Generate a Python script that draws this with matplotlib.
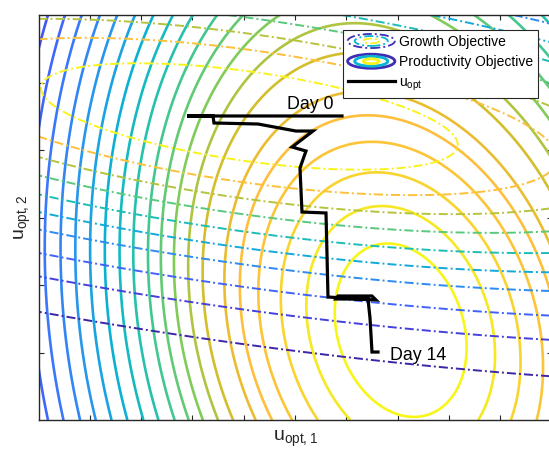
import numpy as np
import matplotlib
matplotlib.use("Agg")
import matplotlib.pyplot as plt
from matplotlib.colors import LinearSegmentedColormap
from matplotlib.legend_handler import HandlerBase
from matplotlib.patches import Ellipse
from matplotlib.lines import Line2D

plt.rcParams['font.family'] = ['Liberation Sans', 'DejaVu Sans']
plt.rcParams['mathtext.fontset'] = 'custom'
plt.rcParams['mathtext.rm'] = 'Liberation Sans'
plt.rcParams['mathtext.it'] = 'Liberation Sans:italic'
plt.rcParams['lines.scale_dashes'] = False

# ---------------- data ----------------
x_range = [0, 10]
y_range = [0, 6]
x_ticks = [1, 2, 3, 4, 5, 6, 7, 8, 9]
y_ticks = [1, 2, 3, 4, 5]

# Growth objective: tilted ellipses (centre line sheared)
growth_center_x = 4.11
growth_center_y0 = 4.92
growth_center_slope = -0.103
growth_semi_x = 4.05
growth_semi_y = 0.666
# where each growth contour crosses the column x = 7.05 (below the centre)
growth_cross_x = [7.05] * 10
growth_cross_y = [3.733, 3.333, 3.067, 2.815, 2.548, 2.296, 2.044, 1.704, 1.363, 0.844]
growth_colorvals = [0.97, 0.78, 0.66, 0.55, 0.45, 0.36, 0.27, 0.17, 0.08, 0.0]

# Productivity objective: ellipses whose centre rises on the left side,
# and whose stretch grows outward
prod_center_x = 7.06
prod_center_y = 1.33
prod_shift_max = 0.92
prod_shift_width = 1.5
prod_stretch = [1.02, 0.12]
prod_shear = [0.20, 0.17]
prod_transition = 4.5
# where each productivity contour crosses the row y = 1.185 (left of centre),
# plus the two outermost ones read at the top edge
prod_cross_x = [5.838, 5.292, 4.805, 4.376, 4.025, 3.733, 3.324, 3.051, 2.778,
                2.524, 2.271, 1.979, 1.706, 1.413, 1.121, 0.828, 0.536, 0.224,
                0.517, 0.185]
prod_cross_y = [1.185] * 18 + [6.0, 6.0]
prod_colorvals = [0.98, 0.93, 0.86, 0.80, 0.77, 0.73, 0.69, 0.65, 0.60, 0.56,
                  0.52, 0.47, 0.43, 0.39, 0.34, 0.30, 0.26, 0.22, 0.18, 0.14]

# optimal input trajectory u_opt
uopt_x = [5.916, 2.895, 3.402, 3.421, 4.279, 5.019, 5.351, 4.942, 5.214, 5.097,
          5.136, 5.604, 5.624, 5.643, 6.579, 6.501, 5.838, 5.799, 6.423, 6.462,
          6.501, 6.618]
uopt_y = [4.504, 4.504, 4.504, 4.400, 4.385, 4.281, 4.281, 4.044, 3.985, 3.733,
          3.081, 3.067, 2.444, 1.822, 1.778, 1.837, 1.837, 1.793, 1.793, 1.511,
          1.007, 1.007]

day_labels = ["Day 0", "Day 14"]
day_label_x = [4.844, 6.852]
day_label_y = [4.607, 0.889]

legend_labels = ["Growth Objective", "Productivity Objective", "u$_\\mathregular{opt}$"]

# ---------------- parula-like colormap ----------------
parula_anchors = [
    (0.00, (0.2422, 0.1504, 0.6603)),
    (0.10, (0.2803, 0.2782, 0.9221)),
    (0.20, (0.2440, 0.4358, 0.9988)),
    (0.30, (0.1540, 0.5902, 0.9218)),
    (0.40, (0.0297, 0.7082, 0.8163)),
    (0.50, (0.1938, 0.7758, 0.6251)),
    (0.60, (0.5044, 0.7993, 0.3480)),
    (0.70, (0.8634, 0.7406, 0.1596)),
    (0.77, (0.9960, 0.7450, 0.2350)),
    (0.85, (0.9800, 0.8150, 0.1850)),
    (0.92, (0.9600, 0.8950, 0.1500)),
    (1.00, (0.9769, 0.9839, 0.0805)),
]
parula = LinearSegmentedColormap.from_list("parula", parula_anchors)

dashdot = (0, (6.5, 2.2, 1.4, 2.2))


def growth_field(x, y):
    x = np.asarray(x, float)
    y = np.asarray(y, float)
    yc = growth_center_y0 + growth_center_slope * x
    return np.sqrt(((x - growth_center_x) / growth_semi_x) ** 2
                   + ((y - yc) / growth_semi_y) ** 2)


def prod_field(x, y):
    x = np.asarray(x, float)
    y = np.asarray(y, float)
    dx = x - prod_center_x
    dy = y - prod_center_y
    side = 0.5 * (1 - np.tanh(dx / prod_shift_width))
    r = np.sqrt(dx ** 2 + dy ** 2)
    for _ in range(60):
        w = r ** 8 / (r ** 8 + prod_transition ** 8)
        c = prod_shift_max * w * side
        e = prod_stretch[0] + prod_stretch[1] * w
        s = prod_shear[0] - prod_shear[1] * w
        dyp = dy - c
        rn = np.sqrt((dx + s * dyp) ** 2 + (dyp / e) ** 2)
        r = 0.5 * r + 0.5 * rn
    return r


# ---------------- figure ----------------
W, H = 549, 450
fig = plt.figure(figsize=(W / 100, H / 100), dpi=100)
ax = fig.add_axes([38.5 / W, 30 / H, 513 / W, 405 / H])

gx = np.linspace(x_range[0], x_range[1], 600)
gy = np.linspace(y_range[0], y_range[1], 450)
X, Y = np.meshgrid(gx, gy)

Zp = prod_field(X, Y)
p_levels = prod_field(prod_cross_x, prod_cross_y)
order = np.argsort(p_levels)
p_levels = p_levels[order]
p_colors = [parula(prod_colorvals[i]) for i in order]
cs_p = ax.contour(X, Y, Zp, levels=p_levels, colors=p_colors,
                  linewidths=1.9, linestyles='solid')

Zg = growth_field(X, Y)
g_levels = growth_field(growth_cross_x, growth_cross_y)
order_g = np.argsort(g_levels)
g_levels = g_levels[order_g]
g_colors = [parula(growth_colorvals[i]) for i in order_g]
cs_g = ax.contour(X, Y, Zg, levels=g_levels, colors=g_colors, linewidths=1.4)
cs_g.set_linestyle(dashdot)

ax.plot(uopt_x, uopt_y, color='black', lw=2.3, solid_joinstyle='miter', zorder=5)
for t, tx, ty in zip(day_labels, day_label_x, day_label_y):
    ax.text(tx, ty, t, fontsize=12.8, ha='left', va='baseline', zorder=6)

ax.set_xlim(*x_range)
ax.set_ylim(*y_range)
ax.set_xticks(x_ticks)
ax.set_yticks(y_ticks)
ax.tick_params(direction='in', length=3.6, width=0.8, color='0.15',
               top=True, right=True, labelbottom=False, labelleft=False)
for sp in ax.spines.values():
    sp.set_linewidth(1.0)
    sp.set_color('0.15')

ax.set_xlabel("u$_\\mathregular{opt,1}$", fontsize=14, labelpad=6, color='0.15')
ax.set_ylabel("u$_\\mathregular{opt,2}$", fontsize=14, labelpad=4, color='0.15')


class ContourIcon(HandlerBase):
    def __init__(self, ls, lw):
        super().__init__()
        self.ls = ls
        self.lw = lw

    def create_artists(self, legend, orig_handle, xdescent, ydescent,
                       width, height, fontsize, trans):
        cx = -xdescent + width / 2
        cy = -ydescent + height / 2
        arts = []
        for f, v in zip([1.0, 0.70, 0.34], [0.02, 0.40, 0.97]):
            e = Ellipse((cx, cy), width * f, height * 1.45 * f, fill=False,
                        edgecolor=parula(v), lw=self.lw, linestyle=self.ls,
                        transform=trans)
            arts.append(e)
        return arts


growth_proxy = Line2D([], [])
prod_proxy = Line2D([], [])
uopt_proxy = Line2D([], [], color='black', lw=2.3)
leg = ax.legend([growth_proxy, prod_proxy, uopt_proxy], legend_labels,
                handler_map={growth_proxy: ContourIcon(dashdot, 1.3),
                             prod_proxy: ContourIcon('-', 2.0)},
                loc='upper right', bbox_to_anchor=(0.9737, 0.963),
                borderaxespad=0, fontsize=10, handlelength=3.4,
                handletextpad=0.3, labelspacing=0.45, borderpad=0.35,
                fancybox=False, framealpha=1, edgecolor='0.15')
leg.get_frame().set_linewidth(0.8)
leg.set_zorder(10)

fig.savefig("out.png", dpi=100)
